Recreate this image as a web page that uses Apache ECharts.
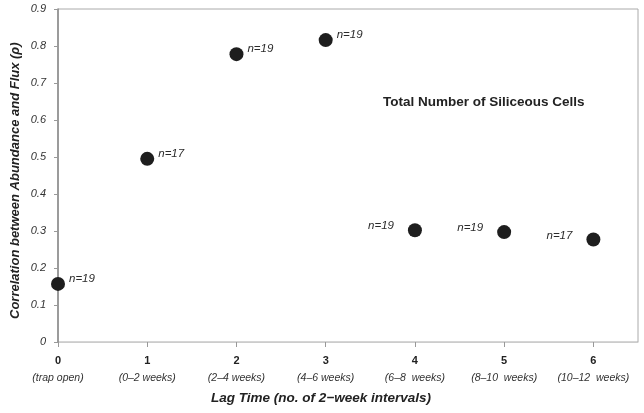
<!DOCTYPE html>
<html><head><meta charset="utf-8">
<script src="https://cdn.jsdelivr.net/npm/echarts@6/dist/echarts.min.js"></script>
<style>html,body{margin:0;padding:0;background:#fff}#c{width:644px;height:413px}</style>
</head><body><div id="c"></div>
<script>
const lagValues = [0, 1, 2, 3, 4, 5, 6];
const lagNames = ['(trap open)', '(0–2 weeks)', '(2–4 weeks)', '(4–6 weeks)', '(6–8  weeks)', '(8–10  weeks)', '(10–12  weeks)'];
const correlations = [0.157, 0.495, 0.778, 0.816, 0.302, 0.297, 0.277];
const sampleSizes = ['n=19', 'n=17', 'n=19', 'n=19', 'n=19', 'n=19', 'n=17'];
const labelSide = ['right', 'right', 'right', 'right', 'left', 'left', 'left'];
const yTicks = [0, 0.1, 0.2, 0.3, 0.4, 0.5, 0.6, 0.7, 0.8, 0.9];

const chart = echarts.init(document.getElementById('c'), null, {renderer: 'canvas'});
const data = lagValues.map((x, i) => ({
  value: [x, correlations[i]],
  label: {show: true, position: labelSide[i], formatter: sampleSizes[i],
          distance: labelSide[i] === 'right' ? 4 : 14,
          offset: labelSide[i] === 'right' ? [0, -5] : [0, -4]}
}));
chart.setOption({
  animation: false,
  grid: {left: 58, right: 6, top: 9, bottom: 71, show: true, borderColor: '#aaa', borderWidth: 1, backgroundColor: 'transparent'},
  xAxis: {
    type: 'value', min: 0, max: 6.5, interval: 1,
    axisLine: {show: true, lineStyle: {color: '#ccc', width: 1}},
    axisTick: {show: true, length: 5, lineStyle: {color: '#999'}, customValues: lagValues},
    splitLine: {show: false},
    axisLabel: {
      margin: 9,
      customValues: lagValues,
      formatter: v => '{a|' + v + '}\n{b|' + lagNames[v] + '}',
      rich: {
        a: {fontFamily: 'Liberation Sans', fontWeight: 'bold', fontSize: 11, color: '#222', lineHeight: 20},
        b: {fontFamily: 'Liberation Sans', fontStyle: 'italic', fontSize: 10.5, color: '#333', lineHeight: 14}
      }
    }
  },
  yAxis: {
    type: 'value', min: 0, max: 0.9, interval: 0.1,
    axisLine: {show: true, lineStyle: {color: '#888', width: 1.5}},
    axisTick: {show: true, length: 4, lineStyle: {color: '#999'}},
    splitLine: {show: false},
    axisLabel: {
      margin: 12,
      formatter: v => { const t = yTicks.find(y => Math.abs(y - v) < 1e-9); return t === 0 ? '0' : t.toFixed(1); },
      fontFamily: 'Liberation Sans', fontStyle: 'italic', fontSize: 11, color: '#333'
    }
  },
  series: [{
    type: 'scatter', symbol: 'circle', symbolSize: 14,
    itemStyle: {color: '#1e1e1e', opacity: 1},
    label: {fontFamily: 'Liberation Sans', fontStyle: 'italic', fontSize: 11.5, color: '#2a2a2a'},
    data: data
  }],
  graphic: [
    {type: 'text', left: 383, top: 95, style: {text: 'Total Number of Siliceous Cells', fontFamily: 'Liberation Sans', fontWeight: 'bold', fontSize: 13.5, fill: '#222'}},
    {type: 'text', left: 211, top: 391, style: {text: 'Lag Time (no. of 2\u2212week intervals)', fontFamily: 'Liberation Sans', fontWeight: 'bold', fontStyle: 'italic', fontSize: 13.5, fill: '#222'}},
    {type: 'text', x: 9, y: 319, rotation: Math.PI / 2, style: {text: 'Correlation between Abundance and Flux (\u03c1)', fontFamily: 'Liberation Sans', fontWeight: 'bold', fontStyle: 'italic', fontSize: 13, fill: '#222'}}
  ]
});
</script></body></html>
